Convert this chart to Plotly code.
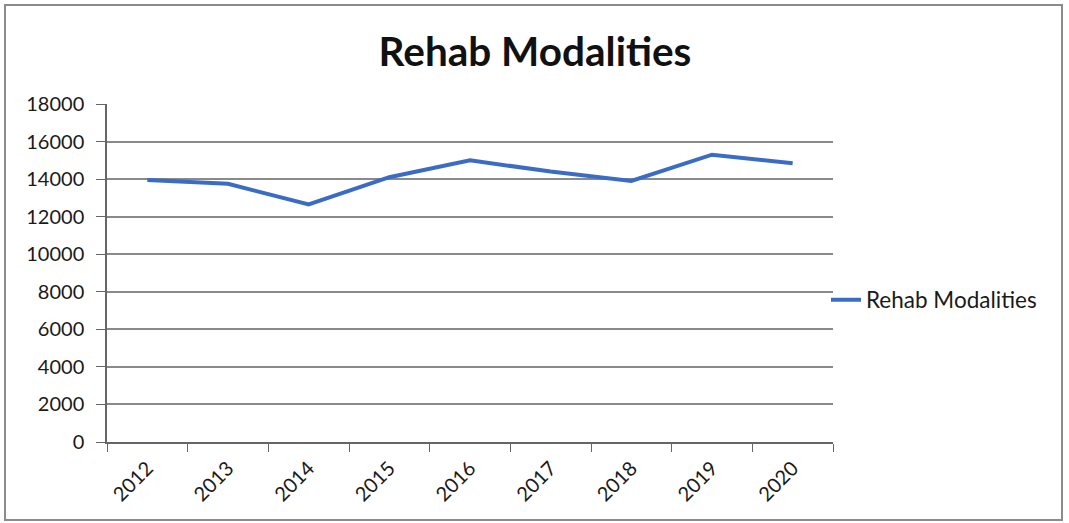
import plotly.graph_objects as go

years = ["2012", "2013", "2014", "2015", "2016", "2017", "2018", "2019", "2020"]
modalities = [13950, 13750, 12650, 14100, 15000, 14400, 13900, 15300, 14850]
y_ticks = list(range(0, 18001, 2000))
y_tick_text = [str(v) for v in y_ticks]

FONT = "Lato"
W, H = 1069, 523
L, R, T, B = 107, 236, 104, 81
PW, PH = W - L - R, H - T - B


def px_x(p):
    return (p - L) / PW


def px_y(p):
    return (H - B - p) / PH


fig = go.Figure()
fig.add_trace(go.Scatter(
    x=years, y=modalities, mode="lines", name="Rehab Modalities",
    line=dict(color="#3B6CC5", width=4),
))

fig.update_layout(
    width=W, height=H,
    margin=dict(l=L, r=R, t=T, b=B),
    paper_bgcolor="white", plot_bgcolor="white",
    font=dict(family=FONT, color="#1a1a1a", size=20),
    title=dict(text="<b>Rehab Modalities</b>", x=535 / W, xref="container", xanchor="center",
               y=1 - 52 / H, yref="container", yanchor="middle",
               font=dict(family=FONT, size=40.5, color="#111111")),
    showlegend=True,
    legend=dict(x=px_x(826), y=px_y(300), xanchor="left", yanchor="middle",
                font=dict(family=FONT, size=22.5, color="#1a1a1a"),
                bgcolor="rgba(0,0,0,0)"),
    xaxis=dict(type="category", range=[-0.5, 8.5], tickangle=-45,
               ticks="outside", tickson="boundaries", ticklen=8, tickcolor="#666666",
               ticklabelstandoff=5,
               showline=True, linecolor="#666666", linewidth=1.5,
               showgrid=False, tickfont=dict(size=20)),
    yaxis=dict(range=[0, 18000], tickmode="array", tickvals=y_ticks, ticktext=y_tick_text,
               ticks="outside", ticklen=9, ticklabelstandoff=8,
               tickcolor="#666666", showline=True, linecolor="#666666", linewidth=1.5,
               showgrid=True, gridcolor="#8a8a8a", gridwidth=1.5, zeroline=False,
               tickfont=dict(size=20)),
    shapes=[dict(type="rect", xref="paper", yref="paper",
                 x0=px_x(5), x1=px_x(1062), y0=px_y(520), y1=px_y(5),
                 line=dict(color="#8c8c8c", width=2), layer="below")],
)

fig.write_html("out.html")
